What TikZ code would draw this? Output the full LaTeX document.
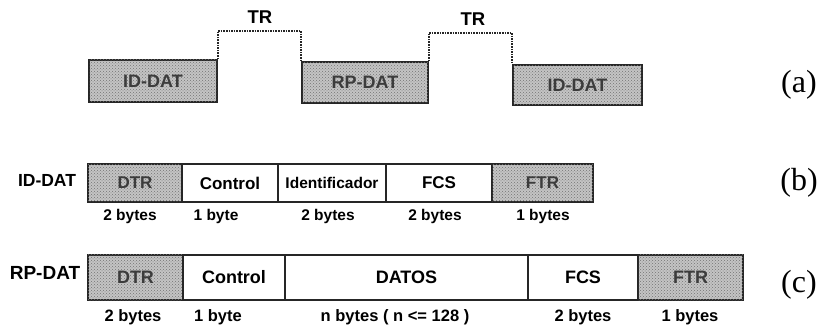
\documentclass[tikz,border=0pt]{standalone}
\usepackage{fontspec}
\setmainfont{Liberation Serif}
\setsansfont{Liberation Sans}
\usetikzlibrary{calc,patterns}
\definecolor{shadegray}{RGB}{196,196,196}
\definecolor{shadetext}{RGB}{60,60,60}
\tikzset{
  seg/.style={draw=black!85,line width=1.5pt,inner sep=0pt,
              font=\sffamily\bfseries\fontsize{17}{19}\selectfont},
  shd/.style={seg,fill=shadegray,postaction={pattern=crosshatch dots,pattern color=black!55},text=shadetext},
  sz/.style={font=\sffamily\bfseries\fontsize{15.5}{17}\selectfont},
  trline/.style={densely dotted,line width=1.6pt,black!85}
}

\begin{document}
\begin{tikzpicture}[x=1pt,y=-1pt,
    rowb/.style={minimum height=38},rowc/.style={minimum height=45,font=\sffamily\bfseries\fontsize{18}{20}\selectfont},
    lbl/.style={font=\sffamily\bfseries\fontsize{17.5}{19}\selectfont},
    tag/.style={font=\fontsize{32}{34}\selectfont}]
  \useasboundingbox (0,0) rectangle (817,331);
  % (a) intercambio
  \node[shd,minimum width=128,minimum height=42,font=\sffamily\bfseries\fontsize{18}{20}\selectfont] (id1) at (153,81) {ID-DAT};
  \node[shd,minimum width=126,minimum height=41,font=\sffamily\bfseries\fontsize{18}{20}\selectfont] (rp) at (365,82.5) {RP-DAT};
  \node[shd,minimum width=129,minimum height=40,font=\sffamily\bfseries\fontsize{18}{20}\selectfont] (id2) at (577.5,85) {ID-DAT};
  \node[lbl,font=\sffamily\bfseries\fontsize{18.5}{20}\selectfont] (tr1) at (260,17) {TR};
  \node[lbl,font=\sffamily\bfseries\fontsize{18.5}{20}\selectfont] (tr2) at (473,19) {TR};
  \coordinate (h1) at (0,31); \coordinate (h2) at (0,33);
  \draw[trline] (id1.north east) -- (id1.north east |- h1) -- (rp.north west |- h1) -- (rp.north west);
  \draw[trline] (rp.north east) -- (rp.north east |- h2) -- (id2.north west |- h2) -- (id2.north west);
  \node[tag] (ta) at (799,85) {(a)};
  % (b) trama ID-DAT
  \node[lbl] (nb) at (47,180) {ID-DAT};
  \node[shd,rowb,minimum width=94] (bdtr) at (135,183) {DTR};
  \node[seg,rowb,minimum width=96] (bctl) at (230,183) {Control};
  \node[seg,rowb,minimum width=108,font=\sffamily\bfseries\fontsize{15.5}{17}\selectfont] (bid) at (332,183) {Identificador};
  \node[seg,rowb,minimum width=106] (bfcs) at (439,183) {FCS};
  \node[shd,rowb,minimum width=101] (bftr) at (542.5,183) {FTR};
  \node[sz] (sb1) at (130,216) {2 bytes};
  \node[sz] (sb2) at (216,216) {1 byte};
  \node[sz] (sb3) at (328,216) {2 bytes};
  \node[sz] (sb4) at (435,216) {2 bytes};
  \node[sz] (sb5) at (543,216) {1 bytes};
  \node[tag] (tb) at (799,183) {(b)};
  % (c) trama RP-DAT
  \node[lbl,font=\sffamily\bfseries\fontsize{19}{21}\selectfont] (nc) at (45,273) {RP-DAT};
  \node[shd,rowc,minimum width=95] (cdtr) at (135.5,277.5) {DTR};
  \node[seg,rowc,minimum width=102] (cctl) at (234,277.5) {Control};
  \node[seg,rowc,minimum width=243] (cdat) at (406.5,277.5) {DATOS};
  \node[seg,rowc,minimum width=110] (cfcs) at (583,277.5) {FCS};
  \node[shd,rowc,minimum width=105] (cftr) at (690.5,277.5) {FTR};
  \node[sz,font=\sffamily\bfseries\fontsize{16.5}{18}\selectfont] (sc1) at (133,317) {2 bytes};
  \node[sz,font=\sffamily\bfseries\fontsize{16.5}{18}\selectfont] (sc2) at (218,317) {1 byte};
  \node[sz,font=\sffamily\bfseries\fontsize{16.5}{18}\selectfont] (sc3) at (395,317) {n bytes ( n <= 128 )};
  \node[sz,font=\sffamily\bfseries\fontsize{16.5}{18}\selectfont] (sc4) at (583,317) {2 bytes};
  \node[sz,font=\sffamily\bfseries\fontsize{16.5}{18}\selectfont] (sc5) at (690,317) {1 bytes};
  \node[tag] (tc) at (799,285) {(c)};
\end{tikzpicture}
\end{document}
